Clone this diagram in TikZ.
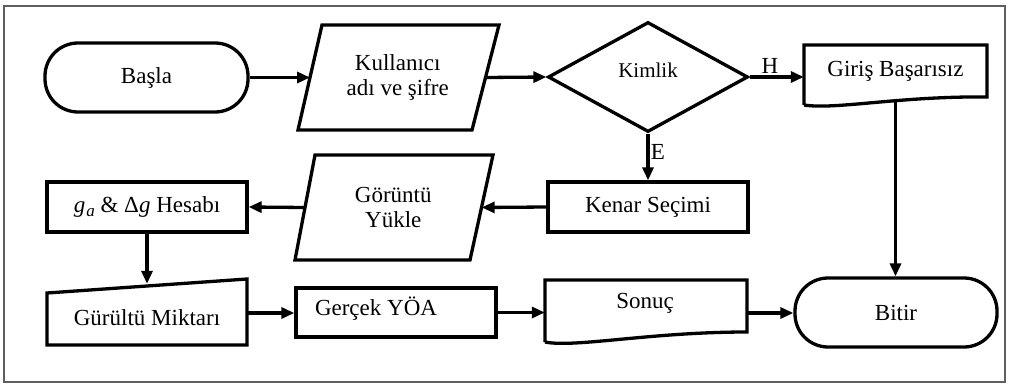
\documentclass[tikz,border=0pt]{standalone}
\usepackage{fontspec}
\setmainfont{Liberation Serif}
\usetikzlibrary{arrows.meta,shapes.geometric}
\newcommand{\mainfs}{\fontsize{23}{25.5}\selectfont}
\newcommand{\smallfs}{\fontsize{21}{24}\selectfont}
\tikzset{
  thick line/.style={line width=3.3pt},
  arr/.style={line width=3.3pt, -{Triangle[length=13pt,width=11pt]}},
  boxnode/.style={draw, line width=3.3pt, minimum width=200pt, minimum height=50pt, inner sep=0pt, font=\mainfs, align=center},
  ghost/.style={inner sep=0pt, font=\mainfs, align=center},
  txt/.style={inner sep=0pt, font=\mainfs, align=center},
  term/.style={draw, line width=3.3pt, rounded corners=33pt, inner sep=0pt, font=\mainfs},
}
\begin{document}
\begin{tikzpicture}[x=1pt,y=-1pt]
\useasboundingbox (0,0) rectangle (1009,385);
\draw[line width=2pt, color={rgb,255:red,95;green,95;blue,95}] (4,6) rectangle (1005,382);

% Başla
\node[term, minimum width=203pt, minimum height=69pt] (start) at (146.5,77.5) {Başla};

% Kullanıcı adı ve şifre (parallelogram)
\draw[thick line, line join=miter] (298,130) -- (322,25) -- (499,25) -- (472,130) -- cycle;
\node[ghost, minimum width=175pt, minimum height=105pt] (user) at (397.75,77.5) {Kullanıcı\\[-1pt]adı ve şifre};

% Kimlik (diamond)
\node[diamond, draw, line width=3.3pt, inner sep=0pt, aspect=1.82, minimum width=200pt, minimum height=110pt] (dec) at (648,77) {};
\node[inner sep=0pt, font=\smallfs] (dect) at (648,70) {Kimlik};

% Giriş Başarısız (document)
\draw[thick line, line join=miter] (804,105) -- (804,45) -- (987,45) -- (987,97)
  .. controls (900,96) and (835,110) .. (804,105);
\node[ghost, minimum width=183pt, minimum height=57pt] (fail) at (895.5,73.5) {};
\node[txt] (failt) at (895.5,71) {Giriş Başarısız};

% Kenar Seçimi
\node[boxnode] (kenar) at (648,207) {Kenar Seçimi};

% Görüntü Yükle (parallelogram)
\draw[thick line, line join=miter] (295,260) -- (315,155) -- (493,155) -- (470,260) -- cycle;
\node[ghost, minimum width=176.5pt, minimum height=105pt] (img) at (393.25,207.5) {Görüntü\\[-1pt]Yükle};

% g_a & Delta g Hesabı
\node[boxnode] (calc) at (147,207) {\textit{g}\kern1pt\raisebox{-4pt}{\fontsize{17}{17}\selectfont\textit{a}} \& Δ\textit{g} Hesabı};

% Gürültü Miktarı (manual input)
\draw[thick line, line join=miter] (47,345) -- (47,293) -- (247,279) -- (247,345) -- cycle;
\node[ghost, minimum width=200pt, minimum height=58pt] (noise) at (147,313) {};
\node[txt] (noiset) at (147,318) {Gürültü Miktarı};

% Gerçek YÖA
\node[draw, line width=3.3pt, minimum width=200pt, minimum height=49pt, inner sep=0pt] (real) at (396,312.5) {};
\node[txt] (realt) at (376,309) {Gerçek YÖA};

% Sonuç (document)
\draw[thick line, line join=miter] (545,342) -- (545,280) -- (747,280) -- (747,332)
  .. controls (650,332) and (575,348) .. (545,342);
\node[ghost, minimum width=202pt, minimum height=66pt] (out) at (646,313) {};
\node[txt] (outt) at (645,303) {Sonuç};

% Bitir
\node[term, minimum width=202pt, minimum height=69pt] (end) at (896,312.5) {Bitir};

% Connectors
\draw[arr] (start.east) -- (user.west);
\draw[arr] (user.east) -- (dec.west);
\draw[arr] (dec.east) -- (dec.east -| fail.west);
\node[txt] (hlab) at (770,66) {H};
\draw[arr] (dec.south) -- (kenar.north);
\node[txt] (elab) at (658,152) {E};
\draw[arr] (kenar.west) -- (img.east);
\draw[arr] (img.west) -- (calc.east);
\draw[arr] (calc.south) -- (noise.north);
\draw[arr] (noise.east) -- (noise.east -| real.west);
\draw[arr] (real.east) -- (real.east -| out.west);
\draw[arr] (out.east) -- (out.east -| end.west);
\draw[arr] (fail.south) -- (fail.south |- end.north);
\end{tikzpicture}
\end{document}
